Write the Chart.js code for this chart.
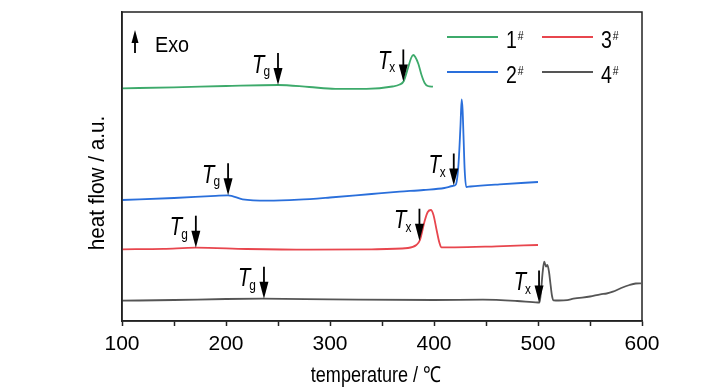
<!DOCTYPE html>
<html>
<head>
<meta charset="utf-8">
<script src="https://cdn.jsdelivr.net/npm/chart.js@4.4.1/dist/chart.umd.min.js"></script>
<style>
  html, body { margin: 0; padding: 0; background: #fff; }
</style>
</head>
<body>
<canvas id="dsc" width="728" height="390"></canvas>
<script>
const FONT = "'Liberation Sans', Arial, sans-serif";

// sample names and colours
const samples = ['1#', '2#', '3#', '4#'];
const colors = ['#3DAA6B', '#2A6FDB', '#E8464E', '#555555'];

// DSC curves (temperature in deg C, heat flow in arbitrary units)
const temp1 = [100, 150, 200, 250, 280, 305, 335, 360, 367, 371, 375, 378, 380, 382, 385, 388, 391, 394, 399];
const flow1 = [232.7, 233.7, 235, 236, 234, 232.2, 232.2, 234.5, 236.5, 240, 253, 263, 266, 264, 257, 246, 238, 235, 234.3];

const temp2 = [100, 150, 190, 202, 216, 240, 270, 300, 340, 367, 390, 410, 418, 421, 423.5, 425.5, 426.6, 427.5, 428.5, 429.5, 431, 435, 463, 500];
const flow2 = [121, 123, 125.2, 125.7, 121.7, 120.3, 121.3, 123.5, 127, 129.3, 131, 133, 135, 136.5, 156, 196, 221.5, 211, 181, 151, 134, 134.5, 136.7, 139];

const temp3 = [100, 140, 171, 220, 280, 340, 375, 383, 386.5, 391, 394, 397, 399.5, 402.5, 405, 407, 420, 460, 500];
const flow3 = [71.7, 72.2, 73.3, 72, 71.3, 71.7, 73, 76, 81, 100, 109, 111, 106, 91, 79, 73.7, 73.7, 74.7, 76];

const temp4 = [100, 150, 200, 235, 300, 400, 447, 480, 500, 501.5, 503, 504.5, 506, 507.7, 509, 510.6, 512, 513.5, 515, 520, 528, 534, 550, 560, 566, 572, 580, 588, 594, 599];
const flow4 = [20.3, 21, 22, 22.3, 21.7, 21, 21.3, 20, 18.5, 18.5, 31, 49, 59.3, 54.5, 56, 49, 37, 25, 20.7, 20.5, 20.8, 22.3, 24.5, 26.7, 27.5, 29.3, 33, 36, 37.5, 37.7];

// glass transition and crystallisation temperatures
const tg = [250, 202, 171, 236.5];
const tx = [370.5, 419, 386, 501];

const xMin = 100, xMax = 600, xStep = 50;
const yMin = 0, yMax = 309;

const temps = [temp1, temp2, temp3, temp4];
const flows = [flow1, flow2, flow3, flow4];

function flowAt(i, t) {
    const ts = temps[i], fs = flows[i];
    for (let k = 1; k < ts.length; k++) {
        if (t <= ts[k]) {
            const r = (t - ts[k - 1]) / (ts[k] - ts[k - 1]);
            return fs[k - 1] + r * (fs[k] - fs[k - 1]);
        }
    }
    return fs[fs.length - 1];
}

// text squeezed a little horizontally, like the narrow face of the original
function narrowText(ctx, text, x, y, align, sx) {
    ctx.save();
    ctx.translate(x, y);
    ctx.scale(sx, 1);
    ctx.textAlign = align;
    ctx.fillText(text, 0, 0);
    ctx.restore();
}

function downArrow(ctx, px, tipY) {
    ctx.beginPath();
    ctx.moveTo(px, tipY - 32);
    ctx.lineTo(px, tipY - 10);
    ctx.stroke();
    ctx.beginPath();
    ctx.moveTo(px, tipY);
    ctx.lineTo(px - 4.5, tipY - 17);
    ctx.lineTo(px + 4.5, tipY - 17);
    ctx.closePath();
    ctx.fill();
}

function tLabel(ctx, px, tipY, sub) {
    const top = tipY - 32;
    ctx.font = '14px ' + FONT;
    const subW = ctx.measureText(sub).width * 0.85;
    const subX = px - 8 - subW;
    ctx.textBaseline = 'alphabetic';
    narrowText(ctx, sub, subX, top + 23, 'left', 0.85);
    ctx.font = 'italic 26px ' + FONT;
    narrowText(ctx, 'T', subX + 1, top + 19.5, 'right', 0.78);
}

const annotate = {
    id: 'annotate',
    afterDraw(chart) {
        const { ctx, chartArea: a, scales: { x, y } } = chart;
        ctx.save();
        ctx.strokeStyle = '#222';
        ctx.lineWidth = 1.5;
        ctx.strokeRect(a.left, a.top, a.right - a.left, a.bottom - a.top);

        ctx.fillStyle = '#000';
        ctx.strokeStyle = '#000';
        ctx.lineWidth = 1.8;
        for (let i = 0; i < samples.length; i++) {
            const gx = x.getPixelForValue(tg[i]);
            const gy = y.getPixelForValue(flowAt(i, tg[i]));
            downArrow(ctx, gx, gy);
            tLabel(ctx, gx, gy, 'g');
            const cx = x.getPixelForValue(tx[i]);
            const cy = y.getPixelForValue(flowAt(i, tx[i]));
            downArrow(ctx, cx, cy);
            tLabel(ctx, cx, cy, 'x');
        }

        // Exo marker
        ctx.lineWidth = 1.8;
        ctx.beginPath();
        ctx.moveTo(135, 53);
        ctx.lineTo(135, 38);
        ctx.stroke();
        ctx.beginPath();
        ctx.moveTo(135, 30);
        ctx.lineTo(131.5, 43);
        ctx.lineTo(138.5, 43);
        ctx.closePath();
        ctx.fill();
        ctx.font = '22px ' + FONT;
        ctx.textBaseline = 'alphabetic';
        narrowText(ctx, 'Exo', 155, 52, 'left', 0.9);

        // legend, two columns
        const cols = [447, 542], rows = [37, 72];
        chart.data.datasets.forEach((ds, i) => {
            const lx = cols[Math.floor(i / 2)], ly = rows[i % 2];
            ctx.strokeStyle = ds.borderColor;
            ctx.lineWidth = 2;
            ctx.beginPath();
            ctx.moveTo(lx, ly);
            ctx.lineTo(lx + 51, ly);
            ctx.stroke();
            const main = ds.label.replace('#', '');
            ctx.fillStyle = '#000';
            ctx.font = '23px ' + FONT;
            narrowText(ctx, main, lx + 59, ly + 11, 'left', 0.85);
            const w = ctx.measureText(main).width * 0.85;
            ctx.font = '13px ' + FONT;
            narrowText(ctx, '#', lx + 60 + w, ly + 3, 'left', 0.8);
        });

        // axis titles
        ctx.fillStyle = '#000';
        ctx.font = '22px ' + FONT;
        narrowText(ctx, 'temperature / \u2103', (a.left + a.right) / 2 - 6, 382, 'center', 0.82);
        ctx.translate(104, 183);
        ctx.rotate(-Math.PI / 2);
        narrowText(ctx, 'heat flow / a.u.', 0, 0, 'center', 0.94);
        ctx.restore();
    }
};

new Chart(document.getElementById('dsc'), {
    type: 'line',
    data: {
        datasets: samples.map((name, i) => ({
            label: name,
            data: temps[i].map((t, k) => ({ x: t, y: flows[i][k] })),
            borderColor: colors[i],
            borderWidth: 1.8,
            pointRadius: 0,
            cubicInterpolationMode: 'monotone',
            fill: false
        }))
    },
    options: {
        responsive: false,
        animation: false,
        devicePixelRatio: 1,
        layout: { padding: { top: 12, right: 86, left: 0, bottom: 0 } },
        plugins: {
            legend: { display: false },
            tooltip: { enabled: false }
        },
        scales: {
            x: {
                type: 'linear',
                min: xMin,
                max: xMax,
                afterFit: s => { s.height = 69; },
                ticks: {
                    stepSize: xStep,
                    autoSkip: false,
                    maxRotation: 0,
                    padding: 6,
                    color: '#000',
                    font: { family: FONT, size: 21 },
                    callback: v => (v % 100 === 0 ? v : '')
                },
                grid: { drawOnChartArea: false, tickLength: 5, tickColor: '#222', tickWidth: 1.5 },
                border: { color: '#222', width: 1.5 }
            },
            y: {
                min: yMin,
                max: yMax,
                afterFit: s => { s.width = 122; },
                ticks: { display: false },
                grid: { display: false },
                border: { color: '#222', width: 1.5 }
            }
        }
    },
    plugins: [annotate]
});
</script>
</body>
</html>
